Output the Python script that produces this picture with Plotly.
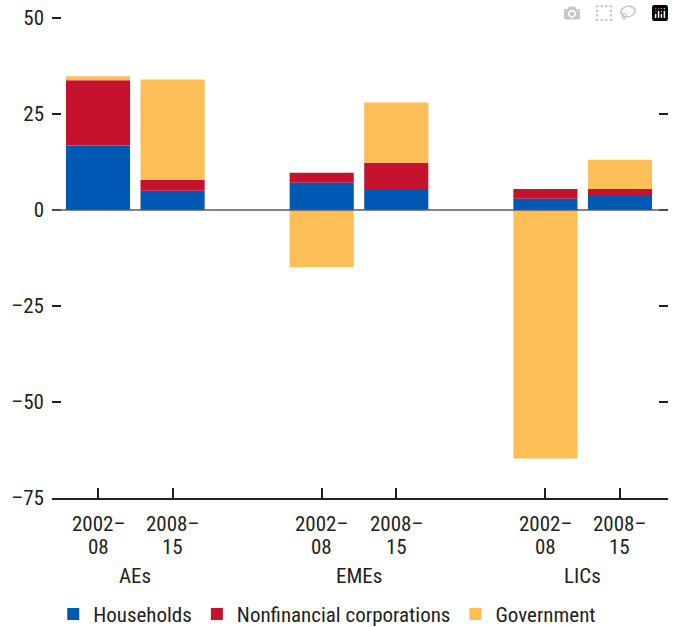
import plotly.graph_objects as go

groups = ["AEs", "EMEs", "LICs"]
period_line1 = ["2002–", "2008–"]
period_line2 = ["08", "15"]

households = [16.8, 5.0, 7.1, 5.5, 2.9, 3.9]
nonfinancial = [17.0, 2.9, 2.6, 6.8, 2.6, 1.6]
government = [1.0, 26.1, -14.9, 15.7, -64.7, 7.6]

tick_vals_y = [50, 25, 0, -25, -50, -75]
tick_text_y = ["50", "25", "0", "–25", "–50", "–75"]

colors = {"Households": "#0058B5", "Nonfinancial corporations": "#C4122F", "Government": "#FDBD57"}

FONT = "Roboto Condensed, Liberation Sans Narrow, Arial Narrow, sans-serif"
TXT = "#231f20"

# x slots: each group has two bars, with an empty slot between groups
xpos = [g * 3 + p for g in range(len(groups)) for p in range(len(period_line1))]

fig = go.Figure()
for name, vals in [("Households", households), ("Nonfinancial corporations", nonfinancial), ("Government", government)]:
    fig.add_trace(go.Bar(x=xpos, y=vals, name=name, marker=dict(color=colors[name], line=dict(width=0)),
                         width=0.86))

annotations = []
for i, x in enumerate(xpos):
    p = i % 2
    annotations.append(dict(x=x, y=0, xref="x", yref="paper", text=period_line1[p], showarrow=False,
                            yanchor="middle", yshift=-26, font=dict(size=21, color=TXT, family=FONT)))
    annotations.append(dict(x=x, y=0, xref="x", yref="paper", text=period_line2[p], showarrow=False,
                            yanchor="middle", yshift=-49, font=dict(size=21, color=TXT, family=FONT)))
for g, name in enumerate(groups):
    annotations.append(dict(x=g * 3 + 0.5, y=0, xref="x", yref="paper", text=name, showarrow=False,
                            yanchor="middle", yshift=-78, font=dict(size=21, color=TXT, family=FONT)))

fig.update_layout(
    barmode="relative",
    width=674, height=627,
    margin=dict(l=52, r=6, t=16, b=129, autoexpand=False),
    plot_bgcolor="white", paper_bgcolor="white",
    font=dict(family=FONT, size=21, color=TXT),
    showlegend=True,
    legend=dict(orientation="h", x=0.002, xanchor="left", y=-0.199, yanchor="top",
                font=dict(size=21, family=FONT, color=TXT), bgcolor="rgba(0,0,0,0)"),
    annotations=annotations,
    shapes=[dict(type="line", xref="paper", x0=0, x1=1, yref="y", y0=0, y1=0,
                 line=dict(color="rgba(90,90,90,0.75)", width=2), layer="above")],
    xaxis=dict(range=[-0.617, 7.644], tickvals=xpos, showticklabels=False, ticks="inside",
               ticklen=10, tickwidth=1.5, tickcolor=TXT, showline=True, linecolor=TXT,
               linewidth=1.5, showgrid=False, zeroline=False, fixedrange=True, automargin=False),
    yaxis=dict(range=[-75, 50.52], tickvals=tick_vals_y, ticktext=tick_text_y, ticks="inside",
               ticklen=9, tickwidth=1.5, tickcolor=TXT, mirror="ticks", showline=False,
               showgrid=False, zeroline=False, ticklabelstandoff=7, fixedrange=True, automargin=False,
               ticklabeloverflow="allow"),
)

fig.write_html("out.html", post_script="document.body.style.margin='0';document.body.style.overflow='hidden';")
